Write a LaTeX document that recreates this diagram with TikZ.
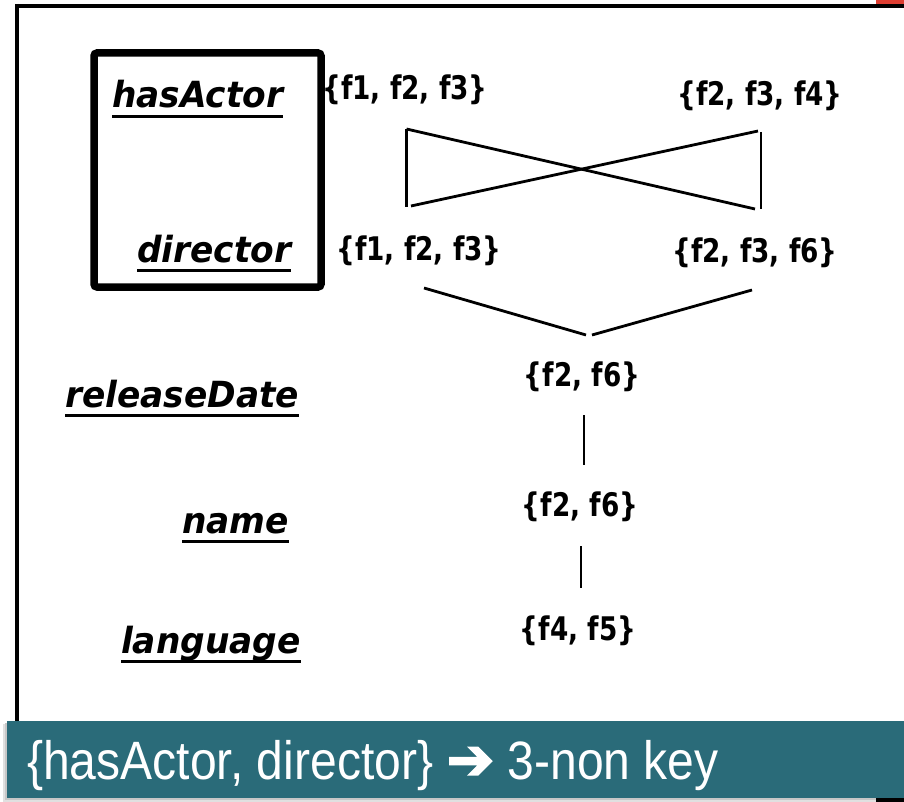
\documentclass[tikz,border=0pt]{standalone}
\usepackage{fontspec}
\usetikzlibrary{calc}
\setmainfont{DejaVu Sans}
\newfontfamily\attrfont[FakeStretch=0.955]{DejaVu Sans}
\newfontfamily\setfont[FakeStretch=0.81]{DejaVu Sans}
\newfontfamily\bannerfont[FakeStretch=0.89]{Liberation Sans}
\newfontfamily\arrowfont[FakeBold=3]{DejaVu Sans}
\definecolor{bannerteal}{RGB}{42,107,121}
\definecolor{cornerred}{RGB}{222,62,50}

\tikzset{
  attr/.style={font=\attrfont\fontsize{36}{36}\selectfont\bfseries\itshape,
    inner sep=0pt, anchor=base west},
  uline/.style={line width=2.4pt},
  fset/.style={font=\setfont\fontsize{32.5}{32.5}\selectfont\bfseries, inner sep=0pt},
  lattice/.style={line width=2.8pt},
}

\begin{document}
\begin{tikzpicture}[x=1pt,y=-1pt]
\useasboundingbox (0,0) rectangle (904,802);

% outer frame and corner marks
\fill[cornerred] (876,0) rectangle (904,4);
\draw[line width=4pt] (15,6) -- (904,6);
\draw[line width=4pt] (17,4) -- (17,721);

% key box around the two attributes
\node[draw, line width=7.5pt, rounded corners=3pt, minimum width=227pt,
      minimum height=234pt, inner sep=0pt] (keybox) at (207.5,170) {};

% attribute names
\node[attr] (a1) at (112,108) {hasActor};
\node[attr] (a2) at (137,262) {director};
\node[attr] (a3) at (65,407) {releaseDate};
\node[attr] (a4) at (182,533) {name};
\node[attr] (a5) at (121,653) {language};
\foreach \n in {a1,a2,a3,a4,a5}
  \draw[uline] ($(\n.base west)+(0,8.5)$) -- ($(\n.base east)+(0,8.5)$);

% sets of final states
\node[fset] (s1) at (405,90)  {\{f1, f2, f3\}};
\node[fset] (s2) at (760,96)  {\{f2, f3, f4\}};
\node[fset] (s3) at (419,251) {\{f1, f2, f3\}};
\node[fset] (s4) at (755,253) {\{f2, f3, f6\}};
\node[fset] (s5) at (582,377) {\{f2, f6\}};
\node[fset] (s6) at (580,507) {\{f2, f6\}};
\node[fset] (s7) at (578,631) {\{f4, f5\}};

% lattice edges
\draw[lattice] ($(s1)+(1.5,39)$) -- ($(s3)+(-12.5,-44)$);
\draw[lattice] ($(s1)+(1.5,39)$) -- ($(s4)+(0,-44)$);
\draw[lattice] ($(s3)+(-8,-45)$) -- ($(s2)+(-2,35)$);
\draw[lattice] ($(s2)+(1,36)$) -- ($(s4)+(6,-44)$);
\draw[lattice] ($(s3)+(5,37)$) -- ($(s5)+(4,-42)$);
\draw[lattice] ($(s5)+(10,-42)$) -- ($(s4)+(-3,37)$);
\draw[lattice] ($(s5)+(2,38)$) -- ($(s6)+(4,-42)$);
\draw[lattice] ($(s6)+(1,39)$) -- ($(s7)+(3,-43)$);

% result banner with a soft shadow
\fill[black!12] (3,724) rectangle (878,802);
\fill[black!22] (5,723) rectangle (877,800);
\fill[black] (876,798) rectangle (904,802);
\fill[bannerteal] (7,721) rectangle (904,798);
\node[inner sep=0pt, anchor=base west, text=white] (banner) at (27,779)
  {\bannerfont\fontsize{54}{54}\selectfont \{hasActor, director\}
   {\arrowfont\fontsize{57}{57}\selectfont ➔} 3-non key};
\end{tikzpicture}
\end{document}
